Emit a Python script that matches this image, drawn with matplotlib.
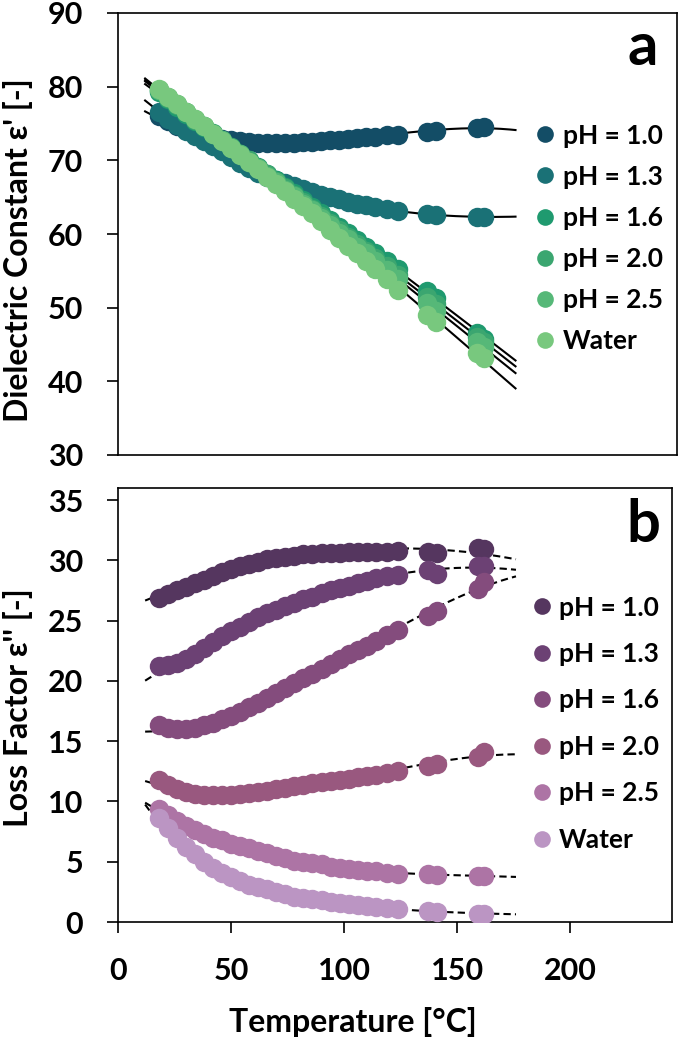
import numpy as np
import matplotlib
matplotlib.use('Agg')
import matplotlib.pyplot as plt
from matplotlib.lines import Line2D

FONT = ['Lato', 'DejaVu Sans']
plt.rcParams['font.family'] = FONT
plt.rcParams['font.weight'] = 'bold'

# Temperature [C] of the measured points (shared by both panels)
temps = [18, 22, 26, 30, 34, 38, 42, 46, 50, 54, 58, 62, 66, 70, 74, 78, 82, 86,
         90, 94, 98, 102, 106, 110, 114, 119, 124, 137, 141, 159, 162]

labels = ['pH = 1.0', 'pH = 1.3', 'pH = 1.6', 'pH = 2.0', 'pH = 2.5', 'Water']

# Panel a: dielectric constant
eps1_ph10 = [76.0, 75.3, 74.6, 74.1, 73.7, 73.4, 73.1, 72.9, 72.7, 72.6, 72.5, 72.4, 72.4, 72.4, 72.4, 72.4,
             72.5, 72.5, 72.6, 72.7, 72.8, 72.9, 73.0, 73.1, 73.2, 73.4, 73.5, 73.9, 74.0, 74.4, 74.5]
eps1_ph13 = [76.6, 75.6, 74.8, 74.0, 73.3, 72.6, 72.0, 71.3, 70.5, 69.7, 69.0, 68.3, 67.8, 67.3, 66.9, 66.5,
             66.1, 65.7, 65.3, 65.0, 64.7, 64.4, 64.1, 63.9, 63.7, 63.4, 63.1, 62.7, 62.6, 62.3, 62.3]
eps1_ph16 = [79.3, 78.3, 77.3, 76.3, 75.4, 74.5, 73.6, 72.7, 71.8, 70.9, 70.0, 69.1, 68.2, 67.3, 66.4, 65.5,
             64.6, 63.7, 62.8, 61.9, 61.0, 60.1, 59.2, 58.3, 57.4, 56.3, 55.2, 52.3, 51.3, 46.6, 45.8]
eps1_ph20 = [79.5, 78.5, 77.5, 76.5, 75.5, 74.6, 73.7, 72.7, 71.8, 70.9, 70.0, 69.0, 68.1, 67.2, 66.2, 65.3,
             64.4, 63.4, 62.5, 61.5, 60.6, 59.6, 58.7, 57.7, 56.8, 55.6, 54.5, 51.4, 50.5, 46.0, 45.3]
eps1_ph25 = [79.6, 78.6, 77.6, 76.6, 75.6, 74.6, 73.6, 72.7, 71.7, 70.8, 69.8, 68.9, 67.9, 67.0, 66.0, 65.1,
             64.1, 63.2, 62.2, 61.2, 60.2, 59.3, 58.3, 57.4, 56.4, 55.1, 53.9, 50.6, 49.6, 45.3, 44.6]
eps1_water = [79.7, 78.6, 77.6, 76.6, 75.6, 74.6, 73.6, 72.6, 71.7, 70.7, 69.8, 68.8, 67.8, 66.8, 65.8, 64.8,
              63.8, 62.8, 61.7, 60.6, 59.5, 58.4, 57.4, 56.4, 55.3, 53.9, 52.4, 49.0, 48.1, 43.8, 43.2]

# Panel b: loss factor
eps2_ph10 = [26.9, 27.2, 27.5, 27.8, 28.1, 28.4, 28.7, 29.0, 29.3, 29.5, 29.7, 29.9, 30.1, 30.2, 30.3, 30.4,
             30.5, 30.5, 30.6, 30.6, 30.6, 30.7, 30.7, 30.7, 30.7, 30.7, 30.8, 30.7, 30.6, 31.0, 30.9]
eps2_ph13 = [21.2, 21.3, 21.5, 21.8, 22.2, 22.7, 23.2, 23.7, 24.1, 24.5, 24.9, 25.3, 25.6, 25.9, 26.2, 26.5,
             26.8, 27.0, 27.3, 27.5, 27.7, 27.9, 28.1, 28.3, 28.5, 28.7, 28.8, 29.2, 28.9, 29.5, 29.5]
eps2_ph16 = [16.3, 16.1, 16.0, 16.0, 16.1, 16.3, 16.5, 16.8, 17.1, 17.4, 17.8, 18.2, 18.6, 19.0, 19.4, 19.8,
             20.2, 20.6, 21.0, 21.4, 21.8, 22.2, 22.6, 22.9, 23.3, 23.8, 24.2, 25.4, 25.8, 27.6, 28.2]
eps2_ph20 = [11.8, 11.4, 11.0, 10.8, 10.6, 10.5, 10.5, 10.5, 10.5, 10.6, 10.7, 10.8, 10.9, 11.0, 11.1, 11.3,
             11.4, 11.5, 11.6, 11.7, 11.8, 11.9, 12.0, 12.1, 12.2, 12.4, 12.5, 12.9, 13.1, 13.7, 14.1]
eps2_ph25 = [9.4, 8.9, 8.4, 8.0, 7.6, 7.3, 7.0, 6.8, 6.5, 6.3, 6.1, 5.9, 5.7, 5.5, 5.3, 5.1,
             5.0, 4.9, 4.8, 4.6, 4.5, 4.4, 4.3, 4.25, 4.2, 4.1, 4.0, 3.95, 3.9, 3.85, 3.85]
eps2_water = [8.6, 7.8, 7.0, 6.2, 5.6, 5.0, 4.5, 4.1, 3.7, 3.4, 3.1, 2.9, 2.7, 2.5, 2.3, 2.1,
              2.0, 1.9, 1.8, 1.7, 1.6, 1.5, 1.4, 1.3, 1.25, 1.15, 1.05, 0.9, 0.85, 0.7, 0.7]

colors_a = ['#134d66', '#1a7176', '#1f9a6f', '#3ba670', '#56b878', '#78c87e']
colors_b = ['#55365f', '#6c4174', '#844c7d', '#99587f', '#ad74a5', '#bb95c3']

series_a = [eps1_ph10, eps1_ph13, eps1_ph16, eps1_ph20, eps1_ph25, eps1_water]
series_b = [eps2_ph10, eps2_ph13, eps2_ph16, eps2_ph20, eps2_ph25, eps2_water]

# trendline type per series: polynomial order, or 'log' for a quadratic in log space
fits_a = [3, 3, 2, 2, 2, 2]
fits_b = [2, 3, 3, 3, 3, 'log']

MARKER_SIZE = 14
TICK_SIZE = 22
LABEL_SIZE = 23
LEGEND_SIZE = 19

fig = plt.figure(figsize=(6.79, 10.44), dpi=100)
ax_a = fig.add_axes([118 / 679, 1 - 455 / 1044, 559 / 679, 442 / 1044])
ax_b = fig.add_axes([118 / 679, 1 - 922 / 1044, 554 / 679, 434 / 1044])

t = np.array(temps, dtype=float)
t_fit = np.linspace(12, 176, 200)


def trend(vals, kind):
    y = np.array(vals, dtype=float)
    if kind == 'log':
        coef = np.polyfit(t, np.log(y), 2)
        return np.exp(np.polyval(coef, t_fit))
    return np.polyval(np.polyfit(t, y, kind), t_fit)


def draw_panel(ax, series, colors, fits, linestyle):
    for vals, kind in zip(series, fits):
        ax.plot(t_fit, trend(vals, kind), color='black', lw=1.5,
                linestyle=linestyle, zorder=2)
    for vals, color in zip(series, colors):
        ax.plot(t, vals, 'o', color=color, ms=MARKER_SIZE, mec='none', zorder=3)
    return [Line2D([], [], marker='o', ls='none', color=c, ms=12, mec='none') for c in colors]


def style_axes(ax):
    for side in ['left', 'bottom', 'top', 'right']:
        ax.spines[side].set_linewidth(1.2)
        ax.spines[side].set_color('black')
    ax.tick_params(axis='both', direction='out', length=8, width=1.2, labelsize=TICK_SIZE, pad=17)
    for lab in ax.get_xticklabels() + ax.get_yticklabels():
        lab.set_fontweight('bold')


h_a = draw_panel(ax_a, series_a, colors_a, fits_a, '-')
ax_a.set_xlim(0, 247.5)
ax_a.set_ylim(30, 90)
ax_a.set_yticks(range(30, 91, 10))
ax_a.tick_params(axis='x', bottom=False, labelbottom=False)
style_axes(ax_a)
ax_a.legend(h_a, labels, loc='upper left', bbox_to_anchor=(0.748, 0.75), frameon=False,
            handlelength=0.7, handletextpad=0.3, labelspacing=0.65,
            borderpad=0, borderaxespad=0, prop={'weight': 'bold', 'size': LEGEND_SIZE, 'family': FONT})
ax_a.text(0.939, 0.882, 'a', transform=ax_a.transAxes, ha='center', va='baseline',
          fontsize=43, fontweight='bold')

h_b = draw_panel(ax_b, series_b, colors_b, fits_b, (0, (3.5, 2)))
ax_b.set_xlim(0, 245)
ax_b.set_ylim(0, 36)
ax_b.set_xticks(range(0, 201, 50))
ax_b.set_yticks(range(0, 36, 5))
style_axes(ax_b)
ax_b.legend(h_b, labels, loc='upper left', bbox_to_anchor=(0.748, 0.752), frameon=False,
            handlelength=0.7, handletextpad=0.3, labelspacing=0.85,
            borderpad=0, borderaxespad=0, prop={'weight': 'bold', 'size': LEGEND_SIZE, 'family': FONT})
ax_b.text(0.948, 0.876, 'b', transform=ax_b.transAxes, ha='center', va='baseline',
          fontsize=43, fontweight='bold')

fig.text(18 / 679, 1 - 250 / 1044, "Dielectric Constant \u03b5' [-]", rotation=90,
         ha='center', va='center', fontsize=LABEL_SIZE, fontweight='bold')
fig.text(18 / 679, 1 - 708 / 1044, "Loss Factor \u03b5'' [-]", rotation=90,
         ha='center', va='center', fontsize=LABEL_SIZE, fontweight='bold')
fig.text(353 / 679, 1 - 1022 / 1044, 'Temperature [\u00b0C]',
         ha='center', va='center', fontsize=LABEL_SIZE, fontweight='bold')

fig.savefig('out.png', dpi=100)
